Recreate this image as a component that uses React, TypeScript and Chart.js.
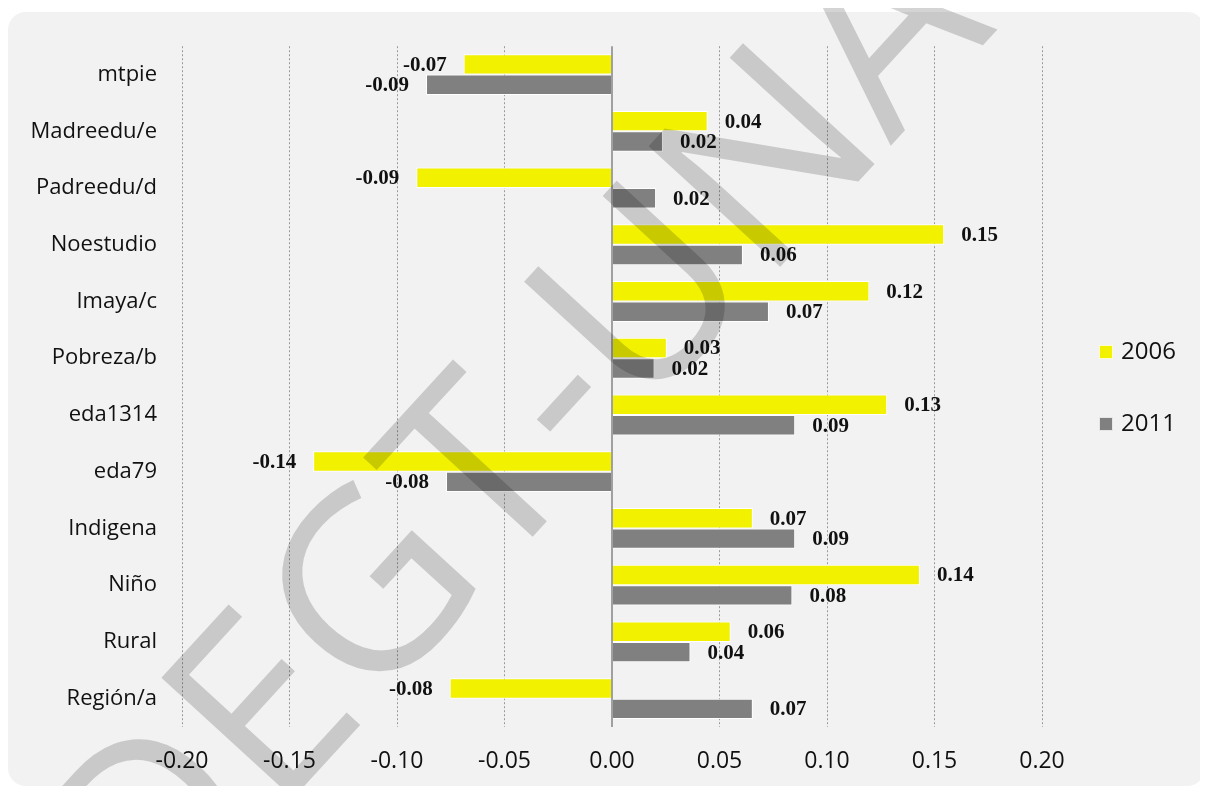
import React, { useEffect, useRef } from "react";
import { Chart, registerables } from "chart.js";

Chart.register(...registerables);

const categories = [
  "mtpie",
  "Madreedu/e",
  "Padreedu/d",
  "Noestudio",
  "Imaya/c",
  "Pobreza/b",
  "eda1314",
  "eda79",
  "Indigena",
  "Niño",
  "Rural",
  "Región/a",
];
const values2006 = [-0.069, 0.0445, -0.091, 0.1545, 0.1197, 0.0255, 0.128, -0.139, 0.0655, 0.1432, 0.0552, -0.0755];
const values2011 = [-0.0865, 0.0237, 0.0205, 0.0609, 0.073, 0.0198, 0.0852, -0.0772, 0.0852, 0.0839, 0.0365, 0.0655];
const seriesNames = ["2006", "2011"];
const seriesColors = ["#f2f200", "#808080"];
const xMin = -0.2;
const xMax = 0.2;
const xStep = 0.05;
const watermarkText = "DEGT-UNA";

const W = 1200;
const H = 778;

const panelPlugin = {
  id: "panel",
  beforeDraw(chart: any) {
    const ctx = chart.ctx;
    ctx.save();
    ctx.fillStyle = "#ffffff";
    ctx.fillRect(0, 0, W, H);
    ctx.fillStyle = "#f2f2f2";
    ctx.beginPath();
    (ctx as any).roundRect(0, 4, 1197, 774, 18);
    ctx.fill();
    ctx.restore();
  },
};

const zeroLinePlugin = {
  id: "zeroLine",
  afterDatasetsDraw(chart: any) {
    const { ctx, chartArea } = chart;
    const x = Math.round(chart.scales.x.getPixelForValue(0));
    ctx.save();
    ctx.strokeStyle = "#a0a0a0";
    ctx.lineWidth = 2;
    ctx.beginPath();
    ctx.moveTo(x, chartArea.top);
    ctx.lineTo(x, chartArea.bottom);
    ctx.stroke();
    ctx.restore();
  },
};

const labelsPlugin = {
  id: "barLabels",
  afterDatasetsDraw(chart: any) {
    const ctx = chart.ctx;
    ctx.save();
    ctx.font = 'bold 21px "Liberation Serif"';
    ctx.fillStyle = "#111111";
    ctx.textBaseline = "middle";
    chart.data.datasets.forEach((ds: any, di: number) => {
      const meta = chart.getDatasetMeta(di);
      meta.data.forEach((bar: any, i: number) => {
        const v = ds.data[i] as number;
        const txt = v.toFixed(2);
        if (v >= 0) {
          ctx.textAlign = "left";
          ctx.fillText(txt, bar.x + 17, bar.y + 1);
        } else {
          ctx.textAlign = "right";
          ctx.fillText(txt, bar.x - 17, bar.y + 1);
        }
      });
    });
    ctx.restore();
  },
};

const legendPlugin = {
  id: "customLegend",
  afterDraw(chart: any) {
    const ctx = chart.ctx;
    ctx.save();
    ctx.font = '24px "Open Sans"';
    ctx.textBaseline = "middle";
    ctx.textAlign = "left";
    chart.data.datasets.forEach((ds: any, i: number) => {
      const y = 344 + i * 72;
      ctx.fillStyle = ds.backgroundColor;
      ctx.fillRect(1091, y - 7, 14, 14);
      ctx.strokeStyle = "rgba(255,255,255,0.8)";
      ctx.lineWidth = 1;
      ctx.strokeRect(1091.5, y - 6.5, 13, 13);
      ctx.fillStyle = "#111111";
      ctx.fillText(ds.label, 1113, y);
    });
    ctx.restore();
  },
};

const watermarkPlugin = {
  id: "watermark",
  afterDraw(chart: any) {
    const ctx = chart.ctx;
    ctx.save();
    ctx.globalCompositeOperation = "multiply";
    ctx.fillStyle = "rgb(212,212,212)";
    ctx.translate(146, 942);
    ctx.rotate((-47.5 * Math.PI) / 180);
    ctx.font = '250px "Open Sans"';
    ctx.textAlign = "left";
    ctx.textBaseline = "alphabetic";
    ctx.fillText(watermarkText, 0, 0);
    ctx.restore();
  },
};

export default function App() {
  const ref = useRef<HTMLCanvasElement | null>(null);
  useEffect(() => {
    if (!ref.current) return;
    const chart = new Chart(ref.current, {
      type: "bar",
      data: {
        labels: categories,
        datasets: [
          {
            label: seriesNames[0],
            data: values2006,
            backgroundColor: seriesColors[0],
            borderColor: "#ffffff",
            borderWidth: 1,
            categoryPercentage: 0.72,
            barPercentage: 1.0,
          },
          {
            label: seriesNames[1],
            data: values2011,
            backgroundColor: seriesColors[1],
            borderColor: "#ffffff",
            borderWidth: 1,
            categoryPercentage: 0.72,
            barPercentage: 1.0,
          },
        ],
      },
      options: {
        indexAxis: "y",
        responsive: false,
        animation: false,
        devicePixelRatio: 1,
        layout: { padding: { left: 0, top: 34, right: 166, bottom: 0 } },
        plugins: {
          legend: { display: false },
          tooltip: { enabled: false },
          title: { display: false },
        },
        scales: {
          x: {
            min: xMin,
            max: xMax,
            afterFit(scale: any) {
              scale.height = 59;
            },
            ticks: {
              stepSize: xStep,
              padding: 21,
              color: "#111111",
              font: { family: "Open Sans", size: 23 },
              callback: (v: any) => Number(v).toFixed(2),
            },
            grid: {
              drawTicks: false,
              color: (c: any) =>
                c.tick && Math.abs(c.tick.value) < 1e-9 ? "rgba(0,0,0,0)" : "#9a9a9a",
              lineWidth: 1,
            },
            border: { display: false, dash: [2, 2] },
          },
          y: {
            afterFit(scale: any) {
              scale.width = 174;
            },
            ticks: {
              padding: 25,
              color: "#111111",
              font: { family: "Open Sans", size: 22 },
            },
            grid: { display: false, drawTicks: false },
            border: { display: false },
          },
        },
      },
      plugins: [panelPlugin, zeroLinePlugin, labelsPlugin, legendPlugin, watermarkPlugin],
    } as any);
    return () => chart.destroy();
  }, []);
  return (
    <div style={{ width: W, height: H }}>
      <canvas ref={ref} width={W} height={H} style={{ display: "block", width: W, height: H }} />
    </div>
  );
}
